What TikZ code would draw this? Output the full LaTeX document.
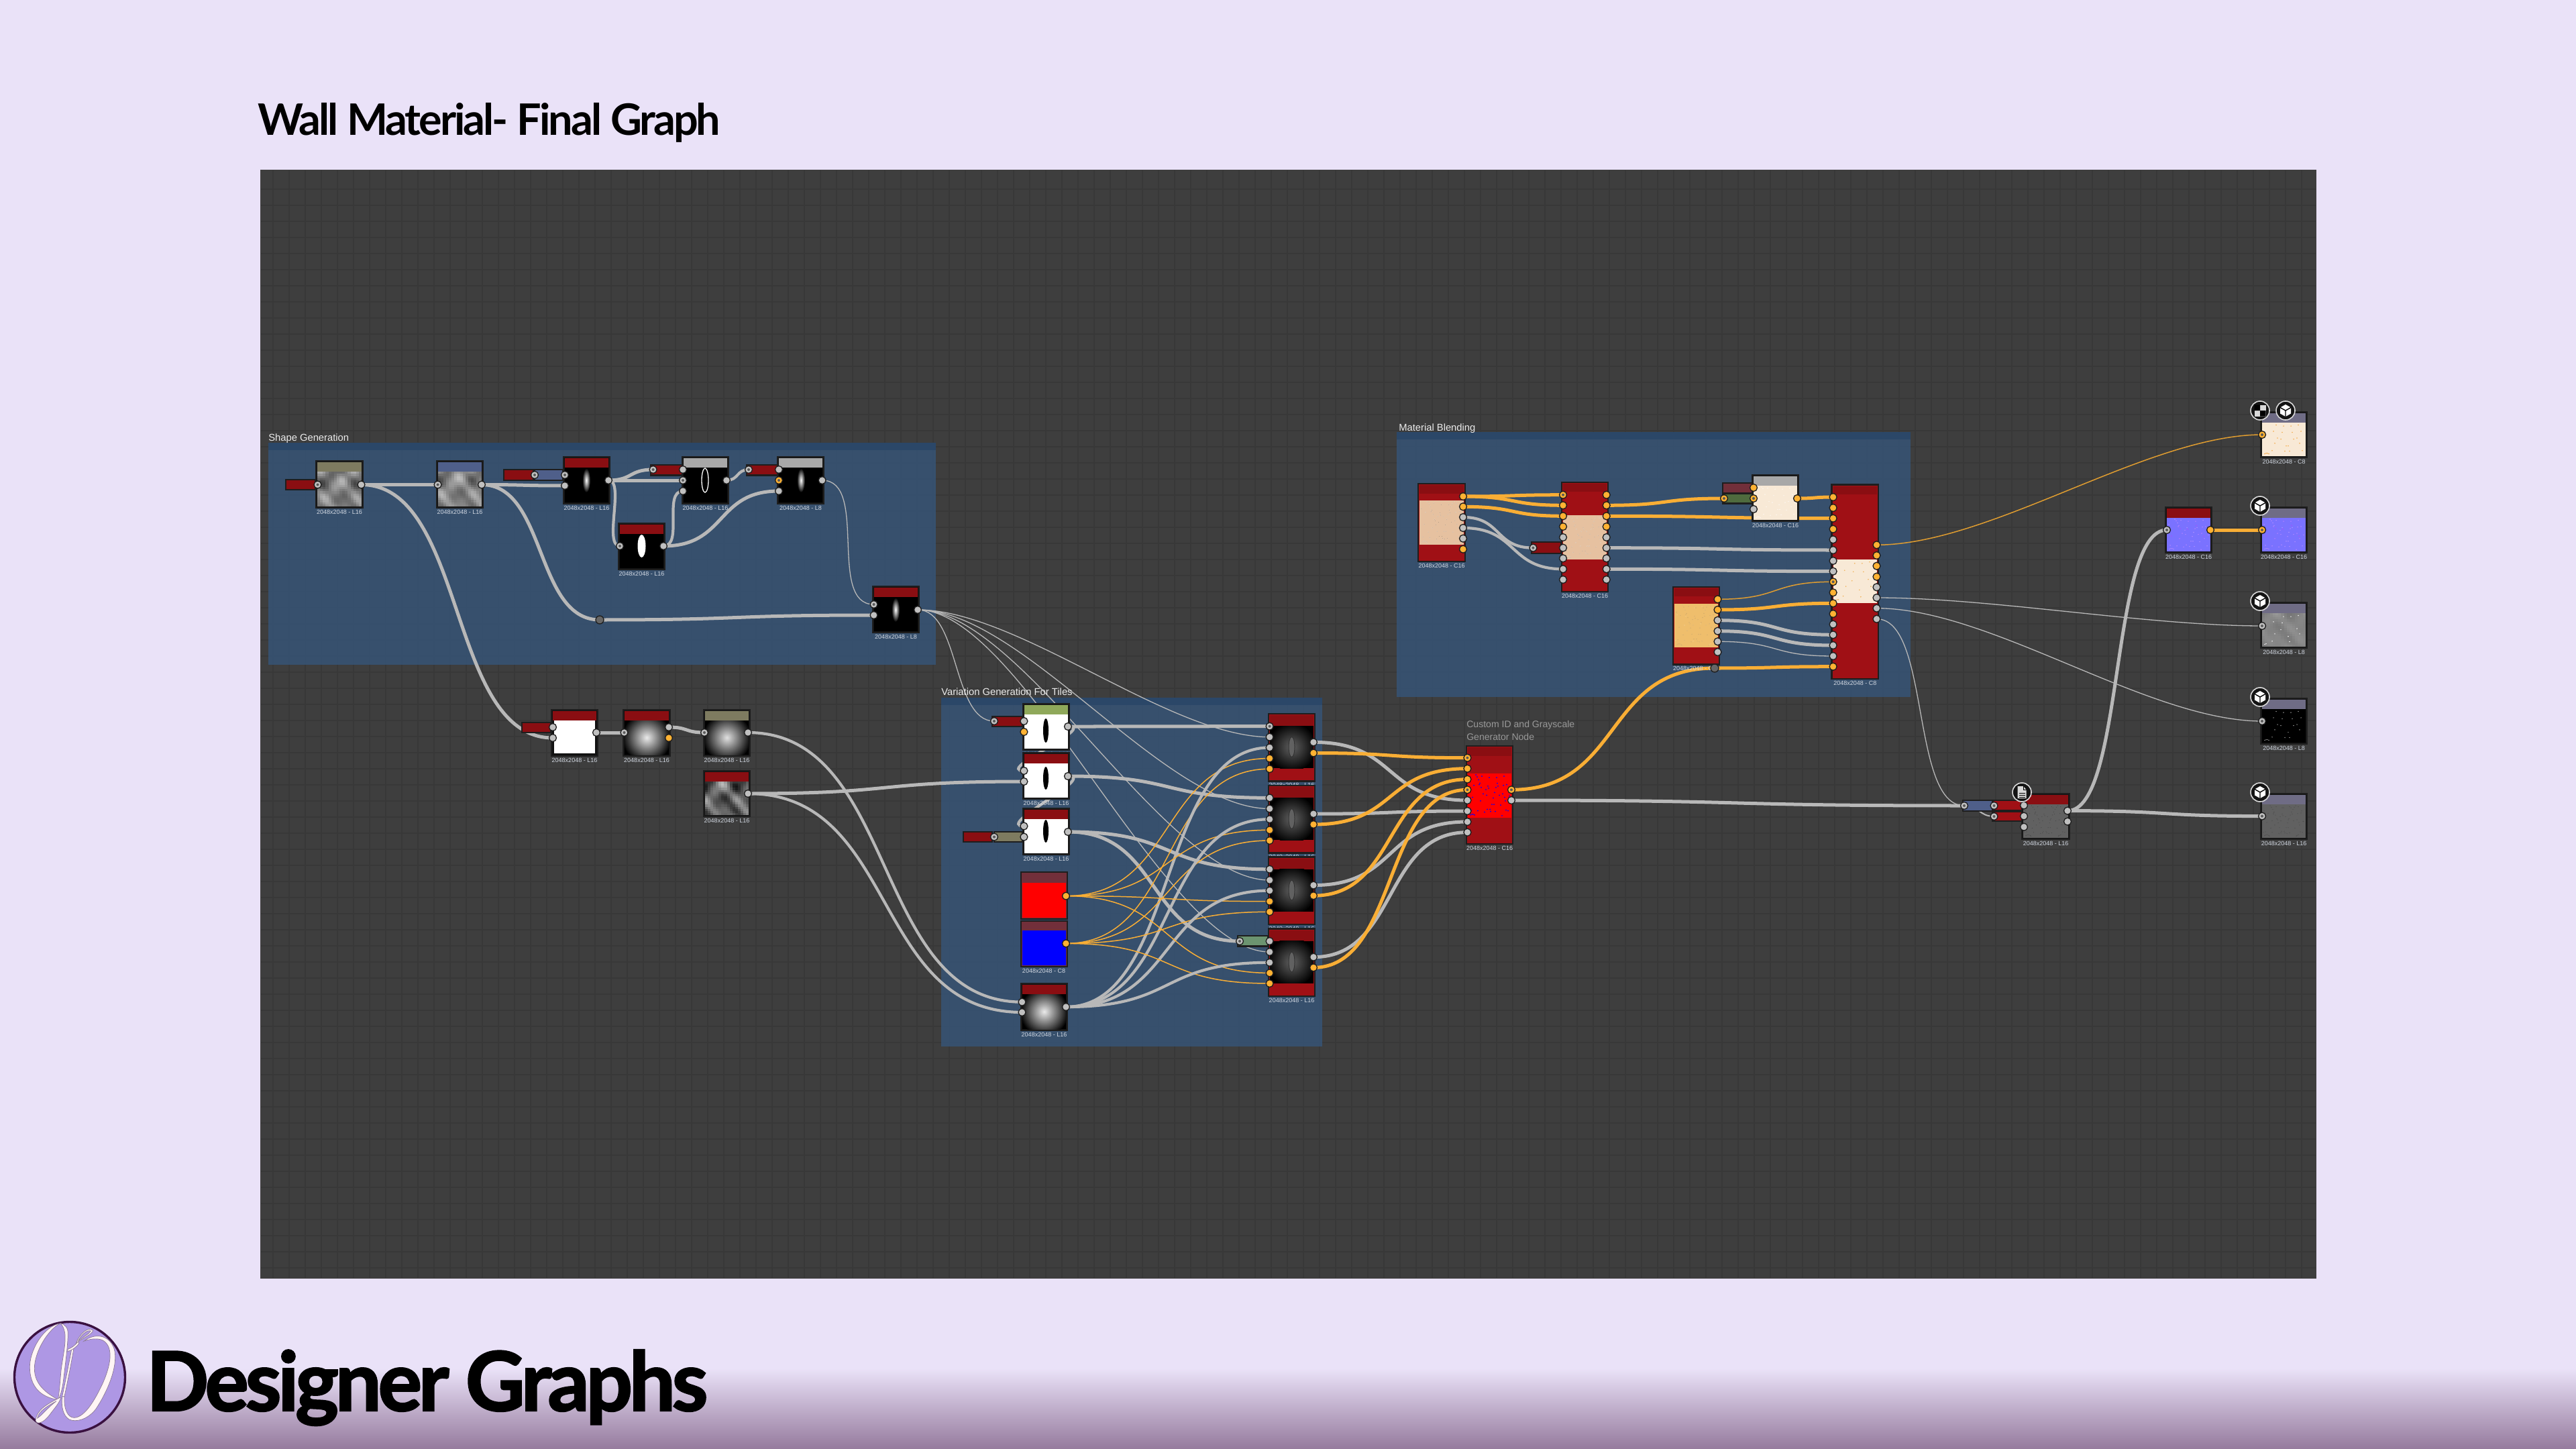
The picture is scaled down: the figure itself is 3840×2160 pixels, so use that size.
\documentclass[tikz,border=0pt]{standalone}
\usepackage{fontspec}
\setmainfont{Liberation Sans}
\newfontfamily\ttlfont[LetterSpace=-4.6]{Lato}
\newfontfamily\dgfont[LetterSpace=-4.2,FakeBold=2]{Lato}
\usetikzlibrary{calc}
\pgfdeclarelayer{base}\pgfdeclarelayer{wires}\pgfsetlayers{base,wires,main}
\definecolor{lav}{HTML}{EAE2F8}\definecolor{lavb}{HTML}{957A9D}
\definecolor{canv}{HTML}{3E3E3E}\definecolor{gridc}{HTML}{383838}
\definecolor{grpc}{HTML}{365476}\definecolor{grph}{HTML}{2A4668}
\definecolor{edge}{HTML}{1E1E1E}
\definecolor{hred}{HTML}{8A0E12}\definecolor{bred}{HTML}{A01015}
\definecolor{holive}{HTML}{7E7B60}\definecolor{hblue}{HTML}{4F5F8A}
\definecolor{hgrey}{HTML}{A8A8A8}\definecolor{hgreen}{HTML}{8FA85A}
\definecolor{hout}{HTML}{6F6C85}\definecolor{hmar}{HTML}{722F3A}
\definecolor{sgreen}{HTML}{6C9470}\definecolor{dgreen}{HTML}{4F6B3E}
\definecolor{wgrey}{HTML}{B8B8B8}\definecolor{worng}{HTML}{F9AE35}
\definecolor{sockg}{HTML}{C0C0C0}\definecolor{socko}{HTML}{FFB233}
\definecolor{labc}{HTML}{D2D8E2}\definecolor{tan}{HTML}{E6C1A0}
\definecolor{cream}{HTML}{F8E9D6}\definecolor{yel}{HTML}{EFBE6C}
\definecolor{nrm}{HTML}{7A72FF}\definecolor{dgry}{HTML}{5A5A5A}
\definecolor{logof}{HTML}{AE97E4}\definecolor{logob}{HTML}{3A1140}\definecolor{logol}{HTML}{8C7A96}
\def\pxu{0.7113pt}
\tikzset{
 boxnode/.style={rectangle,draw=edge,line width=2.5*\pxu,inner sep=0,outer sep=0},
 sockbase/.style={circle,inner sep=0,outer sep=0,minimum size=11*\pxu,draw=edge,line width=1.3*\pxu},
 sockg/.style={sockbase,fill=sockg},
 socko/.style={sockbase,fill=socko},
 sockgd/.style={sockg,path picture={\fill[black!65] (path picture bounding box.center) circle (2);}},
 sockod/.style={socko,path picture={\fill[black!65] (path picture bounding box.center) circle (2);}},
 dotnode/.style={sockbase,fill=black!60,minimum size=12*\pxu},
 thickg/.style={draw=wgrey,line width=5*\pxu},
 thickg2/.style={draw=wgrey,line width=4.2*\pxu},
 thing/.style={draw=wgrey,line width=1.3*\pxu},
 thicko/.style={draw=worng,line width=5*\pxu},
 thino/.style={draw=worng!90!black,line width=1.5*\pxu},
 labtxt/.style={text=labc,inner sep=0,font=\fontsize{6.4}{7}\selectfont},
 grptxt/.style={text=white!92!black,inner sep=0,anchor=base west,font=\fontsize{10.5}{12}\selectfont},
 iconnode/.style={circle,fill=black!92,draw=white!85!black,line width=1.6*\pxu,minimum size=28*\pxu,inner sep=0},
 logostroke/.style={fill=white!96!red,draw=logol,line width=0.7*\pxu},
}
% rectangular node from corners
\newcommand\bx[6]{\pgfmathsetmacro\cxx{(#2+#4)/2}\pgfmathsetmacro\cyy{(#3+#5)/2}\pgfmathsetmacro\wwd{abs(#4-#2)*0.7113}\pgfmathsetmacro\hhd{abs(#5-#3)*0.7113}\node[boxnode,fill=#6,minimum width=\wwd pt,minimum height=\hhd pt] (#1) at (\cxx,\cyy) {};}
% standard node: name,x1,y1,x2,y2,head,label
\newcommand\gn[7]{\bx{#1}{#2}{#3}{#4}{#5}{black!93}%
 \fill[#6] (#2+2,#3+2) rectangle (#4-2,#3+16);%
 \pgfmathsetmacro\ixa{#2+2}\pgfmathsetmacro\ixb{#4-2}\pgfmathsetmacro\iya{#3+16}\pgfmathsetmacro\iyb{#5-2}%
 \node[labtxt] (#1lab) at (\cxx,#5+6) {#7};}
% tall node: name,x1,y1,x2,y2,headbottom,imgtop,imgbottom,label
\newcommand\gt[9]{\bx{#1}{#2}{#3}{#4}{#5}{bred}%
 \fill[hred] (#2+2,#3+2) rectangle (#4-2,#6);%
 \pgfmathsetmacro\ixa{#2+2}\pgfmathsetmacro\ixb{#4-2}\pgfmathsetmacro\iya{#7}\pgfmathsetmacro\iyb{#8}%
 \node[labtxt] (#1lab) at (\cxx,#5+6) {#9};}
\newcommand\imf[1]{\fill[#1] (\ixa,\iya) rectangle (\ixb,\iyb);}
\newcommand\imr[2]{\fill[#2] (\ixa,\iya) rectangle (\ixb,\iyb);
 \begin{scope}\clip (\ixa,\iya) rectangle (\ixb,\iyb);
 \pgfmathsetmacro\qcx{(\ixa+\ixb)/2}\pgfmathsetmacro\qcy{(\iya+\iyb)/2}\pgfmathsetmacro\qr{0.56*(\ixb-\ixa)}
 \shade[inner color=#1,outer color=#2] (\qcx,\qcy) circle (\qr);
 \end{scope}}
\newcommand\imn[3]{\foreach \qi in {0,...,15}{\foreach \qj in {0,...,15}{%
 \pgfmathsetmacro\gv{min(0.95,max(0.03,#2+#3*(sin(\qi*31+#1*17)*cos(\qj*27+#1*23)+0.5*sin(\qi*29+\qj*19+#1*31)+0.3*sin(\qi*61-\qj*37+#1*13))))}%
 \definecolor{nc}{gray}{\gv}%
 \pgfmathsetmacro\qx{\ixa+(\ixb-\ixa)*\qi/16}\pgfmathsetmacro\qy{\iya+(\iyb-\iya)*\qj/16}%
 \pgfmathsetmacro\qw{(\ixb-\ixa)/16+.3}\pgfmathsetmacro\qh{(\iyb-\iya)/16+.3}%
 \fill[nc] (\qx,\qy) rectangle +(\qw,\qh);}}}
\newcommand\ims[3]{\foreach \qi in {1,...,#2}{%
 \pgfmathsetmacro\qx{\ixa+2+(\ixb-\ixa-4)*mod(\qi*37,61)/61}%
 \pgfmathsetmacro\qy{\iya+2+(\iyb-\iya-4)*mod(mod(\qi*\qi,59)*13+\qi*29,59)/59}%
 \fill[#1] (\qx,\qy) circle (#3);}}
\newcommand\sk[4]{\node[sock#4] (#1) at (#2,#3) {};}
\newcommand\skl[3]{\foreach \sn/\sy/\sty in {#3}{\node[sock\sty] (#1\sn) at (#2,\sy) {};}}
\newcommand\wa[3]{\draw[#1] let \p1=(#2.center),\p2=(#3.center),\n1={0.55*abs(\x2-\x1)} in (#2.center) .. controls +(\n1,0) and +(-\n1,0) .. (#3.center);}
\newcommand\wb[4]{\draw[#1] (#2.center) .. controls +(#4,0) and +(-#4,0) .. (#3.center);}
\newcommand\icube[3]{\node[iconnode] (#1) at (#2,#3) {};
 \begin{scope}[shift={(#2,#3)}]
 \fill[white] (0,-9) -- (8,-4.5) -- (8,4.5) -- (0,9) -- (-8,4.5) -- (-8,-4.5) -- cycle;
 \draw[black,line width=1.4*\pxu] (-8,-4.5) -- (0,0) -- (8,-4.5) (0,0) -- (0,9);
 \end{scope}}
\begin{document}
\begin{tikzpicture}[x=0.025cm,y=-0.025cm]
\useasboundingbox (0,0) rectangle (3840,2160);
\begin{pgfonlayer}{base}
\fill[lav] (0,0) rectangle (3840,2160);
\shade[top color=lav,bottom color=lavb] (0,2040) rectangle (3840,2160);
\fill[canv] (388,253) rectangle (3453,1906);
\fill[black!75] (388,253) rectangle (390,1906);
\draw[gridc,line width=1.6*\pxu] foreach \gx in {407,431,...,3450} {(\gx,254) -- (\gx,1905)};
\draw[gridc,line width=1.6*\pxu] foreach \gy in {282,306,...,1904} {(389,\gy) -- (3452,\gy)};
% groups
\fill[grpc,fill opacity=.85] (400,660) rectangle (1395,991);
\fill[grph,fill opacity=.85] (400,660) rectangle (1395,671);
\fill[grpc,fill opacity=.85] (1403,1040) rectangle (1971,1560);
\fill[grph,fill opacity=.85] (1403,1040) rectangle (1971,1050.5);
\fill[grpc,fill opacity=.85] (2082,644) rectangle (2848,1039);
\fill[grph,fill opacity=.85] (2082,644) rectangle (2848,655);
\end{pgfonlayer}
\node[grptxt] (gt1) at (400,657) {Shape Generation};
\node[grptxt] (gt2) at (1403,1036) {Variation Generation For Tiles};
\node[grptxt] (gt3) at (2085,642) {Material Blending};
\node[grptxt,text=black!40!white,font=\fontsize{10}{12}\selectfont] (gt4) at (2186,1084) {Custom ID and Grayscale};
\node[grptxt,text=black!40!white,font=\fontsize{10}{12}\selectfont] (gt5) at (2186,1103) {Generator Node};
\node[anchor=base west,inner sep=0,font=\fontsize{46}{50}\selectfont\ttlfont\bfseries] (title) at (384,201.6) {Wall Material- Final Graph};
\node[anchor=base west,inner sep=0,font=\fontsize{87}{90}\selectfont\dgfont\bfseries] (brand) at (218,2103) {Designer Graphs};
% logo
\coordinate (logoc) at (104,2053);
\draw[logob,fill=logof,line width=3.4*\pxu] (logoc) circle (82.5);
\begin{scope}[shift={(10,1960)},scale=1/3]
% g bowl
\path[logostroke] (240,38) .. controls (165,50) and (100,160) .. (103,240) .. controls (106,315) and (145,368) .. (232,380) .. controls (175,350) and (124,310) .. (124,240) .. controls (124,165) and (185,65) .. (240,38) -- cycle;
% g top and stem
\path[logostroke] (240,38) .. controls (262,42) and (276,60) .. (274,90) .. controls (272,150) and (262,220) .. (254,290) .. controls (249,330) and (242,360) .. (228,384) .. controls (236,350) and (238,300) .. (243,250) .. controls (250,190) and (266,130) .. (260,80) .. controls (256,60) and (250,48) .. (240,38) -- cycle;
% D
\path[logostroke] (345,118) .. controls (390,82) and (455,85) .. (480,150) .. controls (502,225) and (450,345) .. (398,422) .. controls (362,468) and (310,482) .. (280,468) .. controls (252,452) and (243,410) .. (248,365) -- (258,365) .. controls (255,420) and (272,460) .. (302,460) .. controls (350,458) and (395,380) .. (430,305) .. controls (465,225) and (478,150) .. (436,118) .. controls (418,104) and (380,104) .. (345,118) -- cycle;
\path[logostroke] (290,155) .. controls (278,220) and (262,300) .. (248,365) -- (258,365) .. controls (272,300) and (288,220) .. (300,150) -- cycle;
\path[logostroke] (273,154) .. controls (290,148) and (305,138) .. (318,120) -- (324,126) .. controls (312,146) and (292,157) .. (273,164) -- cycle;
\path[logostroke] (310,128) .. controls (325,85) and (365,50) .. (386,70) .. controls (382,88) and (340,102) .. (310,128) -- cycle;
\path[draw=logol,line width=0.7*\pxu,fill=logof] (320,116) .. controls (334,88) and (360,66) .. (376,72) .. controls (370,84) and (344,98) .. (320,116) -- cycle;
\path[logostroke] (238,370) .. controls (190,395) and (135,420) .. (129,472) .. controls (135,496) and (168,480) .. (192,447) .. controls (212,420) and (234,396) .. (242,372) -- cycle;
\path[draw=logol,line width=0.7*\pxu,fill=logof] (222,386) .. controls (190,403) and (142,430) .. (137,462) .. controls (155,452) and (186,412) .. (222,386) -- cycle;
\end{scope}

% ---------- Shape Generation
\bx{sN1}{426}{715}{470}{730}{hred}
\gn{N1}{471}{687}{541}{757}{holive}{2048x2048 - L16} \imn{3}{.5}{.16}
\gn{N2}{651}{687}{720}{757}{hblue}{2048x2048 - L16} \imn{5}{.52}{.16}
\bx{sN3a}{751}{700}{795}{716}{hred}\bx{sN3b}{797}{700}{839}{716}{hblue}
\gn{N3}{840}{681}{909}{751}{hred}{2048x2048 - L16} \fill[black] (842,697) rectangle (907,749); \shade[inner color=white,outer color=black] (874,716) ellipse (6 and 18);
\bx{sN4}{970}{693}{1017}{708.6}{hred}
\gn{N4}{1017}{681}{1086}{751}{hgrey}{2048x2048 - L16} \fill[black] (1019,697) rectangle (1084,749); \draw[white,line width=1.3*\pxu] (1051,716) ellipse (5 and 18);
\bx{sN5}{1113}{693}{1159}{708.6}{hred}
\gn{N5}{1159}{681}{1228}{751}{hgrey}{2048x2048 - L8} \fill[black] (1161,697) rectangle (1226,749); \shade[inner color=white,outer color=black] (1194,716) ellipse (6 and 18);
\gn{N6}{922}{780}{991}{849}{hred}{2048x2048 - L16} \fill[black] (924,796) rectangle (989,847); \fill[white] (956.5,814) ellipse (6 and 17);
\gn{N7}{1301}{874}{1370}{943}{hred}{2048x2048 - L8} \fill[black] (1303,890) rectangle (1368,941); \shade[inner color=white,outer color=black] (1335,909) ellipse (6 and 18);
\sk{n1i}{473.5}{722.5}{gd}\sk{n1o}{538.5}{722.5}{g}
\sk{n2i}{652.6}{722.5}{gd}\sk{n2o}{718}{722.5}{g}
\sk{n3s}{797}{708}{gd}\sk{n3a}{842}{708}{gd}\sk{n3b}{842}{724}{g}\sk{n3o}{907}{716}{g}
\sk{n4s}{973.6}{700}{gd}\sk{n4a}{1018}{700}{g}\sk{n4b}{1018}{716}{gd}\sk{n4c}{1018}{732}{g}\sk{n4o}{1083}{716}{g}
\sk{n5s}{1116}{700}{gd}\sk{n5a}{1161}{700}{g}\sk{n5b}{1161}{716}{od}\sk{n5c}{1161}{732}{g}\sk{n5o}{1225.6}{716}{g}
\sk{n6i}{924}{814}{gd}\sk{n6o}{989}{814}{g}
\sk{n7a}{1302.6}{901}{gd}\sk{n7b}{1302.6}{917}{g}\sk{n7o}{1368}{909}{g}
\node[dotnode] (d1) at (894,924) {};
% ---------- middle
\bx{sN8}{778}{1077}{821}{1092}{hred}
\gn{N8}{822}{1058}{891}{1127}{hred}{2048x2048 - L16} \fill[white] (826,1074) rectangle (887,1123);
\gn{N9}{929}{1058}{999}{1127}{hred}{2048x2048 - L16} \imr{white!92!black}{black}
\gn{N10}{1049}{1058}{1118}{1127}{holive}{2048x2048 - L16} \imr{white!88!black}{black}
\gn{N11}{1049}{1149}{1118}{1217}{hred}{2048x2048 - L16} \imn{7}{.38}{.24}
\sk{n8a}{824}{1084}{g}\sk{n8b}{824}{1100}{g}\sk{n8o}{889}{1092}{g}
\sk{n9i}{930.5}{1092}{gd}\sk{n9a}{997}{1084}{g}\sk{n9b}{997}{1100}{o}
\sk{n10i}{1050}{1092}{gd}\sk{n10o}{1115}{1092}{g}
\sk{n11o}{1115}{1183}{g}
% ---------- Variation group
\bx{sV1}{1479}{1068}{1524}{1083}{hred}
\gn{V1}{1525}{1049}{1594}{1118}{hgreen}{2048x2048 - L16} \imf{white} \fill[black] (1559,1089) ellipse (4 and 18);
\gn{V2}{1525}{1122}{1594}{1191}{hred}{2048x2048 - L16} \imf{white} \fill[black] (1559,1160) ellipse (4 and 17);
\bx{sV3a}{1436}{1240}{1479}{1255}{hred}\bx{sV3b}{1482}{1240}{1524}{1255}{holive}
\gn{V3}{1525}{1205}{1594}{1274}{hred}{2048x2048 - L16} \imf{white} \fill[black] (1559,1239) ellipse (4 and 17);
\bx{V4}{1522}{1300}{1591}{1370}{hmar}\fill[red] (1524,1316) rectangle (1589,1368);
\bx{V5}{1522}{1373}{1591}{1441}{hmar}\fill[blue] (1524,1386.5) rectangle (1589,1439);
\node[labtxt] (V5lab) at (1556,1447) {2048x2048 - C8};
\gn{V6}{1522}{1466}{1591}{1536}{hred}{2048x2048 - L16} \imr{white!92!black}{black}
\sk{v1s}{1482}{1075}{gd}\sk{v1a}{1526.4}{1075}{g}\sk{v1b}{1526.4}{1091}{o}\sk{v1o}{1592}{1083}{g}
\sk{v2a}{1526.4}{1149}{g}\sk{v2b}{1526.4}{1165}{g}\sk{v2o}{1592}{1157}{g}
\sk{v3s}{1482}{1247.6}{gd}\sk{v3a}{1526.4}{1231.5}{g}\sk{v3b}{1526.4}{1247.6}{g}\sk{v3o}{1592}{1240}{g}
\sk{v4o}{1589}{1335.6}{o}\sk{v5o}{1589}{1406.4}{o}
\sk{v6a}{1523.5}{1493.7}{g}\sk{v6b}{1523.5}{1509}{g}\sk{v6o}{1589}{1501}{g}
% M nodes
\foreach \mm/\my in {1/1064,2/1171,3/1277.5,4/1384.6}{
 \pgfmathsetmacro\mya{\my}\pgfmathsetmacro\myb{\my+100.5}\pgfmathsetmacro\myh{\my+18}\pgfmathsetmacro\myi{\my+81}
 \gt{M\mm}{1891}{\mya}{1960}{\myb}{\myh}{\myh}{\myi}{2048x2048 - L16}
 \imr{black!62!white}{black}
 \pgfmathsetmacro\myc{\my+49.5}
 \draw[black!80,fill=black!62,line width=1*\pxu] (1925.5,\myc) ellipse (4.5 and 15);
}
\bx{sM}{1845}{1395}{1890}{1410.6}{sgreen}
\skl{m1}{1892.6}{1/1082.7/gd,2/1098.7/g,3/1114.4/g,4/1130.5/o,5/1146.2/o}
\skl{m2}{1892.6}{1/1189.4/g,2/1205.5/g,3/1221.2/g,4/1237.3/o,5/1253/o}
\skl{m3}{1892.6}{1/1295.8/g,2/1312/g,3/1327.6/g,4/1343.7/o,5/1359.3/o}
\skl{m4}{1892.6}{1/1403/g,2/1419/g,3/1434.8/g,4/1450.4/o,5/1466/o}
\sk{m1p}{1958}{1106.4}{g}\sk{m1q}{1958}{1122.5}{o}
\sk{m2p}{1958}{1213.2}{g}\sk{m2q}{1958}{1229}{o}
\sk{m3p}{1958}{1319.6}{g}\sk{m3q}{1958}{1335.2}{o}
\sk{m4p}{1958}{1426.7}{g}\sk{m4q}{1958}{1442.4}{o}
\sk{msk}{1848}{1403}{gd}
% Custom ID
\gt{C}{2186}{1112}{2255}{1258}{1127}{1153}{1219}{2048x2048 - C16}
\imf{red}\ims{blue}{48}{1}
\skl{cl}{2187.4}{1/1129.7/od,2/1145.7/o,3/1161.7/o,4/1177.3/od,5/1193/g,6/1209/g,7/1225/g,8/1240.7/g}
\sk{cr1}{2253}{1177.3}{od}\sk{cr2}{2253}{1193}{g}
% ---------- Material group
\gt{B1}{2114}{721}{2184}{837}{736}{746}{812}{2048x2048 - C16} \imf{tan}\ims{white!80!tan}{60}{.7}\ims{tan!80!black}{60}{.6}
\gt{B2}{2328}{719}{2397}{882}{733}{768}{834}{2048x2048 - C16} \imf{tan}\ims{white!80!tan}{60}{.7}\ims{tan!80!black}{60}{.6}
\gt{B4}{2730.5}{722.7}{2800}{1012}{737}{833.7}{899}{2048x2048 - C8} \imf{cream}\ims{yel!80!orange}{16}{.9}
\gt{B5}{2494}{875}{2563}{990.7}{889}{900}{965}{2048x2048 - C16} \imf{yel}\ims{yel!80!white}{70}{.8}\ims{yel!85!black}{60}{.7}
\bx{sB3a}{2568}{720}{2612}{735}{hmar}\bx{sB3b}{2568}{736}{2612}{750.7}{dgreen}
\gn{B3}{2612}{708}{2681}{777}{hgrey}{2048x2048 - C16} \imf{cream}\ims{white}{30}{.7}
\bx{sB2}{2283}{808}{2327}{825}{hred}
\skl{b1r}{2181}{1/740/o,2/755.3/o,3/771/g,4/787/g,5/802.7/g,6/818.7/o}
\skl{b2l}{2330}{1/737.7/od,2/753.3/o,3/769.3/o,4/785/o,5/801/g,6/816.7/g,7/832.3/g,8/848.3/g,9/864/g}
\skl{b2r}{2394.7}{1/737.7/o,2/753.3/o,3/769.3/o,4/785/o,5/801/g,6/816.7/g,7/832.3/g,8/848.3/g,9/864/g}
\sk{b2s}{2285.4}{816.7}{gd}
\sk{b3s}{2570}{743}{od}\sk{b3a}{2614}{727}{o}\sk{b3b}{2614}{743}{od}\sk{b3c}{2614}{759}{g}\sk{b3o}{2679}{743}{o}
\skl{b4l}{2732.6}{1/741/o,2/757/o,3/772.7/o,4/788.7/o,5/804.3/g,6/820/g,7/836/g,8/851.7/g,9/867.3/od,10/883.3/o,11/899.3/o,12/915/o,13/930.7/g,14/946.3/g,15/962/g,16/978/g,17/993.7/o}
\skl{b4r}{2797.5}{1/812.3/o,2/828/o,3/843.7/o,4/859.7/o,5/875.3/g,6/891/g,7/906.7/g,8/922.7/g}
\skl{b5r}{2560.5}{1/893.3/o,2/909/o,3/924.7/g,4/940.7/g,5/956.3/g,6/972/g}
\node[dotnode] (d2) at (2556,996) {};
% ---------- right side
\bx{sGa}{2926}{1193}{2970}{1209}{hblue}\bx{sGb}{2970.5}{1193}{3015}{1208}{bred}\bx{sGc}{2970.5}{1210}{3015}{1224}{bred}
\gn{G}{3014}{1183}{3085}{1251}{hred}{2048x2048 - L16} \imf{black!62}\ims{black!70}{70}{.7}
\gn{Nrm}{3228}{756}{3297}{824}{hred}{2048x2048 - C16} \imf{nrm}\ims{nrm!70!magenta}{45}{.9}\ims{nrm!70!white}{40}{.8}
\gn{O1}{3370}{614}{3439}{682}{hout}{2048x2048 - C8} \imf{cream}\ims{yel!70!orange}{24}{.9}
\gn{O2}{3370}{756}{3439}{824}{hout}{2048x2048 - C16} \imf{nrm}\ims{nrm!70!magenta}{45}{.9}\ims{nrm!70!white}{40}{.8}
\gn{O3}{3370}{898}{3439}{966}{hout}{2048x2048 - L8} \imn{9}{.52}{.05}\ims{white}{14}{.8}
\gn{O4}{3370}{1041}{3439}{1109}{hout}{2048x2048 - L8} \imf{black}\ims{white!85!black}{22}{.7}
\gn{O5}{3370}{1183}{3439}{1251}{hout}{2048x2048 - L16} \imf{black!62}\ims{black!70}{70}{.7}
\sk{gs1}{2928}{1201}{gd}\sk{gs2}{2972.5}{1201}{gd}\sk{gs3}{2972.5}{1217}{gd}
\sk{ga}{3017}{1200.5}{g}\sk{gb}{3017}{1216.6}{g}\sk{gc}{3017}{1232.7}{g}\sk{gp}{3082}{1208.6}{g}\sk{gq}{3082}{1224.6}{g}
\sk{ni}{3230}{790}{gd}\sk{no}{3295}{790}{o}
\sk{o1i}{3372}{648}{od}\sk{o2i}{3372}{790}{od}\sk{o3i}{3372}{933}{gd}\sk{o4i}{3372}{1075}{gd}\sk{o5i}{3372}{1216.6}{gd}
% icons
\node[iconnode] (ic0) at (3369,612) {};
\begin{scope}[shift={(3369,612)}]
 \fill[white!85!black] (-8.5,-8.5) rectangle (8.5,8.5);
 \fill[black] (-8.5,-8.5) rectangle (0,0) (0,0) rectangle (8.5,8.5);
\end{scope}
\icube{ic1}{3407}{612}\icube{ic2}{3369}{754}\icube{ic3}{3369}{896}\icube{ic4}{3369}{1039}\icube{ic5}{3369}{1181}
\node[iconnode] (ic6) at (3014,1181) {};
\begin{scope}[shift={(3014,1181)}]
 \fill[white!85!black] (-6.5,-9) -- (2,-9) -- (6.5,-4) -- (6.5,9) -- (-6.5,9) -- cycle;
 \draw[black,line width=1*\pxu] (-4.5,1) -- (4.5,1) (-4.5,4) -- (4.5,4) (-4.5,7) -- (4.5,7) (2,-9) -- (2,-4) -- (6.5,-4);
\end{scope}
% ---------- wires
\begin{pgfonlayer}{wires}
\wa{thickg}{n1o}{n2i}\wa{thickg}{n1o}{n8b}
\wa{thickg}{n2o}{n3b}\wa{thickg}{n2o}{d1}\wa{thickg}{d1}{n7b}
\wa{thickg}{n3o}{n4b}\wa{thickg}{n3o}{n4s}\wb{thickg2}{n3o}{n6i}{25}
\wb{thickg2}{n6o}{n4c}{30}\wa{thickg}{n6o}{n5c}\wa{thickg2}{n4o}{n5s}
\wb{thing}{n5o}{n7a}{70}
\wa{thickg}{n8o}{n9i}\wa{thickg}{n9a}{n10i}
\wa{thickg2}{n10o}{v6a}\wa{thickg2}{n11o}{v6b}\wa{thickg}{n11o}{v2b}
\wa{thing}{n7o}{v1s}\wb{thing}{n7o}{m12}{150}\wb{thing}{n7o}{m22}{157}\wb{thing}{n7o}{m32}{157}\wb{thing}{n7o}{m42}{157}
\wa{thickg}{v1o}{m11}\wb{thickg2}{v1o}{v2a}{45}
\wa{thickg}{v2o}{m21}\wb{thickg2}{v2o}{v3a}{45}
\wa{thickg}{v3o}{m31}\wa{thickg}{v3o}{msk}
\foreach \k in {1,2,3,4}{
 \wa{thing,line width=1.5*\pxu,draw=worng}{v4o}{m\k 4}
 \wa{thing,line width=1.5*\pxu,draw=worng}{v5o}{m\k 5}
 \wa{thickg2}{v6o}{m\k 3}
}
\wa{thickg}{m1p}{cl5}\wa{thicko}{m1q}{cl1}
\wa{thickg}{m2p}{cl6}\wa{thicko}{m2q}{cl2}
\wa{thickg}{m3p}{cl7}\wa{thicko}{m3q}{cl3}
\wa{thickg}{m4p}{cl8}\wa{thicko}{m4q}{cl4}
\wa{thicko}{cr1}{d2}\wa{thicko}{d2}{b4l17}\wa{thickg}{cr2}{gs1}
\wa{thicko}{b1r1}{b2l1}\wa{thicko}{b1r1}{b2l2}\wa{thicko}{b1r2}{b2l3}
\wa{thickg2}{b1r3}{b2s}\wa{thickg2}{b1r4}{b2l8}
\wa{thicko}{b2r2}{b3s}\wa{thicko}{b3o}{b4l1}\wa{thicko}{b2r3}{b4l3}
\wa{thickg}{b2r6}{b4l6}\wa{thickg}{b2r8}{b4l8}
\wa{thino}{b5r1}{b4l9}\wa{thicko}{b5r2}{b4l11}
\wa{thickg}{b5r3}{b4l14}\wa{thickg}{b5r4}{b4l15}\wa{thing}{b5r5}{b4l16}
\wb{thino}{b4r1}{o1i}{170}\wb{thing}{b4r6}{o3i}{170}\wb{thing}{b4r7}{o4i}{170}\wb{thing}{b4r8}{gs1}{80}
\wb{thing,line width=2*\pxu}{gs1}{gs3}{22}
\wb{thickg}{gp}{ni}{85}\wa{thickg}{gp}{o5i}\wa{thicko}{no}{o2i}
\end{pgfonlayer}
\end{tikzpicture}
\end{document}
